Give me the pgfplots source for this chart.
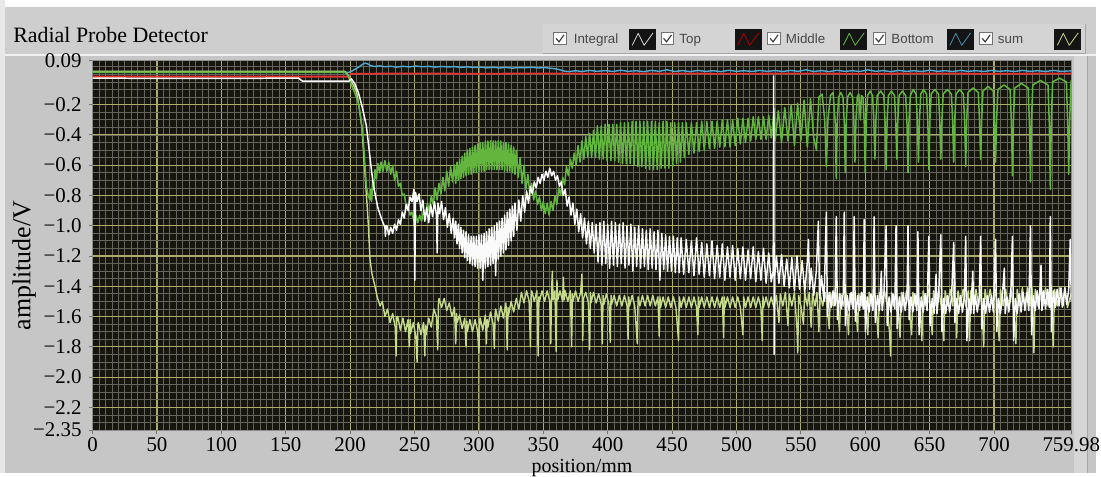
\documentclass[border=0pt]{standalone}
\usepackage{fontspec}
\setmainfont{Liberation Serif}
\newfontfamily\legfont{Liberation Sans}
\usepackage{pgfplots}
\pgfplotsset{compat=1.18}
\definecolor{bgc}{RGB}{198,198,198}
\definecolor{titlec}{RGB}{206,206,206}
\definecolor{legc}{RGB}{212,212,212}
\definecolor{rightc}{RGB}{214,214,214}
\definecolor{plotbg}{RGB}{22,22,15}
\definecolor{majg}{RGB}{172,172,108}
\definecolor{ming}{RGB}{100,100,90}
\definecolor{wht}{RGB}{250,250,250}
\definecolor{grn}{RGB}{98,182,62}
\definecolor{sumc}{RGB}{198,218,140}
\definecolor{redc}{RGB}{226,52,52}
\definecolor{bluc}{RGB}{82,170,214}
\begin{document}
\begin{tikzpicture}
\begin{scope}[x=0.5pt,y=-0.5pt]
\path[use as bounding box] (0,0) rectangle (1101,475);
\fill[bgc] (0,0) rectangle (1101,475);
\fill[titlec] (0,7) rectangle (1101,55);
\fill[white] (0,0) rectangle (1101,7);
\fill[white!60!bgc] (0,0) rectangle (5,475);
\draw[white!75!bgc,line width=0.8pt] (5,55.5)--(1101,55.5);
\fill[rightc] (1079,56) rectangle (1092,475);
\draw[black!35,line width=0.5pt] (1092,56)--(1092,475);
\fill[legc] (545,24) rectangle (1090,54);
\draw[black!35,line width=0.5pt] (545,54)--(1090,54)--(1090,24);
\node[anchor=base west,inner sep=0,font=\fontsize{11}{13}\selectfont] at (13,42.5) {Radial Probe Detector};
\end{scope}
\begin{axis}[
  at={(46.5pt,-216pt)}, anchor=south west,
  width=491.5pt, height=185.5pt, scale only axis,
  xmin=0, xmax=759.98, ymin=-2.35, ymax=0.09,
  axis background/.style={fill=plotbg},
  xtick={0,50,100,150,200,250,300,350,400,450,500,550,600,650,700,759.98},
  xticklabels={0,50,100,150,200,250,300,350,400,450,500,550,600,650,700,759.98},
  minor xtick={0,5,...,760},
  ytick={0.09,-0.2,-0.4,-0.6,-0.8,-1.0,-1.2,-1.4,-1.6,-1.8,-2.0,-2.2,-2.35},
  yticklabels={0.09,−0.2,−0.4,−0.6,−0.8,−1.0,−1.2,−1.4,−1.6,−1.8,−2.0,−2.2,−2.35},
  minor ytick={0.05,0,...,-2.3},
  grid=both,
  major grid style={draw=majg,line width=0.55pt},
  minor grid style={draw=ming,line width=0.4pt},
  tick align=outside, tick pos=left,
  major tick length=2pt, minor tick length=0pt,
  tick style={draw=black!55,line width=0.5pt},
  axis line style={draw=black!45},
  ticklabel style={font=\fontsize{10.5}{12}\selectfont},
  xticklabel style={inner sep=0.5pt,yshift=-1pt},
  xlabel={position/mm}, ylabel={amplitude/V},
  xlabel style={at={(axis description cs:0.5,-0.1135)},anchor=base,inner sep=0pt,font=\fontsize{10}{12}\selectfont},
  ylabel style={at={(axis description cs:-0.07,0.445)},anchor=center,font=\fontsize{13}{15}\selectfont},
  every axis plot/.append style={line join=round,line cap=round},
]
% Bottom (blue)
\addplot[bluc,line width=0.7pt] coordinates {(0,0.013)(199,0.013)(201,0.02)(204,0.035)(207,0.05)(209.5,0.066)(211.5,0.074)(213.5,0.07)(216,0.058)(219,0.052)(223,0.056)(227,0.05)(231,0.054)(236,0.048)(241,0.053)(246,0.049)(251,0.055)(256,0.05)(261,0.053)(266,0.048)(271,0.052)(276,0.049)(281,0.051)(286,0.046)(291,0.05)(296,0.045)(301,0.048)(306,0.043)(311,0.047)(316,0.042)(321,0.046)(326,0.041)(331,0.045)(336,0.044)(341,0.047)(346,0.042)(351,0.045)(356,0.04)(360,0.036)(363,0.03)(366,0.022)(370,0.018)(375,0.024)(380,0.019)(386,0.026)(392,0.02)(398,0.025)(404,0.019)(410,0.027)(416,0.02)(422,0.024)(428,0.018)(434,0.026)(440,0.02)(446,0.03)(452,0.019)(458,0.025)(464,0.018)(470,0.026)(476,0.02)(482,0.024)(488,0.018)(494,0.027)(500,0.02)(506,0.024)(512,0.019)(518,0.026)(524,0.02)(530,0.025)(536,0.019)(542,0.026)(548,0.02)(554,0.03)(560,0.019)(566,0.025)(572,0.018)(578,0.027)(584,0.02)(590,0.024)(596,0.019)(602,0.03)(608,0.02)(614,0.025)(620,0.018)(626,0.026)(632,0.02)(638,0.024)(644,0.019)(650,0.028)(656,0.02)(662,0.024)(668,0.019)(674,0.026)(680,0.02)(686,0.024)(692,0.019)(698,0.026)(704,0.02)(710,0.024)(716,0.019)(722,0.026)(728,0.02)(734,0.024)(740,0.019)(746,0.026)(752,0.02)(759.98,0.023)};
% Top (red)
\addplot[redc,line width=0.9pt] coordinates {(0,-0.015)(199,-0.015)(200.5,0.004)(250,0.006)(300,0.004)(350,0.006)(400,0.004)(450,0.006)(500,0.004)(550,0.006)(600,0.004)(650,0.006)(700,0.004)(759.98,0.006)};
% sum (pale yellow-green)
\addplot[sumc,line width=0.7pt] coordinates {(0,0.02)(196,0.02)(198,0.0)(200,-0.035)(202.5,-0.07)(205.1,-0.12)(207,-0.22)(209,-0.34)(210.3,-0.50)(211.6,-0.67)(213,-0.84)(214.1,-0.99)(215.4,-1.22)(217,-1.32)(219.3,-1.40)(221,-1.47)(223.2,-1.53)
(225,-1.50)(227,-1.60)(229,-1.55)(231,-1.64)(233,-1.58)(235,-1.67)(235.7,-1.86)(236.3,-1.60)(237,-1.60)(239,-1.69)(241,-1.61)(243,-1.70)(245,-1.62)(246,-1.80)(246.6,-1.62)(247,-1.71)(249,-1.64)(251,-1.73)(252,-1.90)(252.6,-1.65)(253,-1.64)(255,-1.72)(257,-1.64)(258,-1.86)(258.6,-1.66)(259,-1.72)(261,-1.61)(263,-1.67)(265,-1.55)(267,-1.60)(268,-1.82)(268.6,-1.50)(269,-1.48)(271,-1.54)(273,-1.48)(275,-1.56)(277,-1.51)(279,-1.60)(281,-1.54)(282,-1.78)(282.6,-1.58)(283,-1.64)(285,-1.59)(287,-1.68)(289,-1.61)(290,-1.80)(290.6,-1.63)(291,-1.70)(293,-1.62)(295,-1.70)(297,-1.62)(299,-1.70)(300,-1.84)(300.6,-1.62)(301,-1.61)(303,-1.69)(305,-1.59)(305.8,-1.78)(306.4,-1.62)(307,-1.67)(309,-1.57)(311,-1.65)(312,-1.81)(312.6,-1.58)(313,-1.55)(315,-1.63)(317,-1.53)(319,-1.61)(321,-1.51)(322,-1.82)(322.6,-1.54)(323,-1.59)(325,-1.50)(327,-1.57)(329,-1.48)(331,-1.55)
(333,-1.44)(335,-1.51)(337,-1.43)(339,-1.50)(340,-1.80)(340.6,-1.47)(341,-1.43)(343,-1.50)(345,-1.43)(346,-1.86)(346.6,-1.47)(347,-1.50)(349,-1.43)(351,-1.50)(353,-1.43)(355,-1.50)(355.8,-1.78)(356.4,-1.43)(357,-1.30)(357.6,-1.49)(359,-1.43)(360,-1.83)(360.6,-1.36)(361.2,-1.49)(363,-1.43)(365,-1.50)(365.6,-1.34)(366.2,-1.49)(367,-1.43)(369,-1.50)(371,-1.43)(372,-1.80)(372.6,-1.45)(373,-1.50)(375,-1.43)(377,-1.50)(379,-1.44)(380,-1.32)(380.6,-1.76)(381.2,-1.48)(383,-1.44)(385,-1.51)(386,-1.82)(386.6,-1.44)(387,-1.51)(389,-1.44)(391,-1.51)(393,-1.45)(395,-1.52)(395.8,-1.78)(396.4,-1.46)(397,-1.52)(399,-1.45)(401,-1.52)(402,-1.77)(402.6,-1.46)(403,-1.52)(405,-1.46)(407,-1.53)(409,-1.46)(411,-1.53)(413,-1.46)(415,-1.53)(415.8,-1.75)(416.4,-1.47)(417,-1.53)(419,-1.46)(421,-1.53)(423,-1.78)(423.6,-1.47)(425,-1.53)(427,-1.46)(429,-1.53)(431,-1.46)(433,-1.53)(435,-1.46)(437,-1.53)(439,-1.47)(440,-1.73)(440.6,-1.47)(441,-1.54)(443,-1.47)(445,-1.54)(447,-1.47)(449,-1.54)(451,-1.47)(453,-1.54)(455,-1.76)(455.6,-1.47)(457,-1.54)(459,-1.47)(461,-1.54)(463,-1.47)(465,-1.54)(467,-1.47)(469,-1.54)(470,-1.72)(470.6,-1.47)(471,-1.54)(473,-1.47)(475,-1.54)(477,-1.47)(479,-1.54)(481,-1.47)(483,-1.54)(485,-1.47)(487,-1.54)(489,-1.47)(490,-1.74)(490.6,-1.47)(491,-1.54)(493,-1.47)(495,-1.54)(497,-1.47)(499,-1.54)(501,-1.47)(503,-1.54)(505,-1.72)(505.6,-1.47)(507,-1.54)(509,-1.47)(511,-1.54)(513,-1.47)(515,-1.54)(517,-1.47)(519,-1.54)(520,-1.76)(520.6,-1.47)(521,-1.54)(523,-1.47)(525,-1.54)(527,-1.47)(529,-1.54)
(531,-1.46)(533,-1.64)(534,-1.45)(536,-1.53)(538,-1.44)(540,-1.66)(541,-1.45)(543,-1.53)(545,-1.44)(547,-1.68)(547.6,-1.84)(548.3,-1.46)(550,-1.53)(552,-1.65)(553,-1.44)(555,-1.53)(556.5,-1.44)(558,-1.67)(559,-1.45)(561,-1.53)(562.5,-1.44)(564,-1.70)(565,-1.45)(567,-1.53)(569,-1.44)(570.5,-1.54)(572,-1.68)(573,-1.44)(575,-1.53)(577,-1.44)(578.5,-1.52)(580,-1.70)(581,-1.45)(583,-1.53)(585,-1.44)(587,-1.72)(588,-1.45)(590,-1.53)(592,-1.44)(594,-1.70)(595,-1.45)(597,-1.53)(599,-1.44)(600.5,-1.53)(602,-1.72)(603,-1.44)(605,-1.53)(607,-1.43)(608.5,-1.53)(610,-1.74)(611,-1.44)(613,-1.53)(615,-1.43)(617,-1.53)(619,-1.72)(619.7,-1.86)(620.4,-1.44)(622,-1.53)(624,-1.43)(625.5,-1.53)(627,-1.74)(628,-1.44)(630,-1.53)(632,-1.43)(634,-1.53)(636,-1.72)(637,-1.44)(639,-1.53)(641,-1.43)(642.5,-1.53)(644,-1.76)(645,-1.43)(647,-1.53)(649,-1.42)(650.5,-1.53)(652,-1.72)(653,-1.43)(655,-1.53)(657,-1.42)(659,-1.53)(661,-1.76)(662,-1.43)(664,-1.53)(666,-1.42)(668,-1.53)(669.5,-1.30)(670.2,-1.52)(671,-1.74)(672,-1.43)(674,-1.53)(676,-1.42)(678,-1.53)(680,-1.43)(681,-1.76)(682,-1.43)(684,-1.53)(686,-1.42)(688,-1.53)(690,-1.42)(692,-1.80)(693,-1.42)(695,-1.53)(697,-1.42)(699,-1.53)(701,-1.42)(702.5,-1.53)(704,-1.76)(705,-1.42)(707,-1.53)(709,-1.42)(711,-1.53)(713,-1.42)(715,-1.53)(717,-1.78)(718,-1.42)(720,-1.53)(722,-1.41)(724,-1.53)(726,-1.41)(728,-1.53)(729.5,-1.41)(731,-1.84)(732,-1.42)(734,-1.53)(736,-1.41)(738,-1.53)(740,-1.41)(742,-1.53)(744,-1.41)(746,-1.80)(747,-1.42)(749,-1.53)(751,-1.41)(753,-1.54)(755,-1.41)(757,-1.54)(759.98,-1.45)};
% Middle (green)
\addplot[grn,line width=0.75pt] coordinates {(0,0.015)(196,0.015)(198.5,-0.01)(201,-0.07)(203.5,-0.12)(206.4,-0.19)(208.5,-0.30)(210.3,-0.45)(211.5,-0.60)(212.6,-0.74)(214,-0.80)(215.4,-0.83)
(216,-0.76)(216.7,-0.84)(217.5,-0.70)(218.5,-0.76)(219.3,-0.63)(220.5,-0.69)(221.5,-0.59)(223,-0.65)(224,-0.58)(225.5,-0.64)(227,-0.57)(228.5,-0.64)(230,-0.58)(231.5,-0.66)(233,-0.60)(234.5,-0.70)(236,-0.64)(237.5,-0.74)(239,-0.72)(240.5,-0.80)(242,-0.79)(243.5,-0.87)(245,-0.86)(246.5,-0.93)(248,-0.91)(249.5,-0.97)(251,-0.93)(252.5,-0.98)(254,-0.93)(255.5,-0.97)(257,-0.90)(258.5,-0.94)(260,-0.85)(261.5,-0.91)(263,-0.80)(264.5,-0.86)(266,-0.75)(267.5,-0.83)(269,-0.72)(270.5,-0.79)(272,-0.68)(273.5,-0.77)(275,-0.64)(276.5,-0.74)(278,-0.61)(279.5,-0.71)
(281,-0.60)(282,-0.72)(283,-0.58)(284,-0.70)(285,-0.56)(286,-0.69)(287,-0.54)(288,-0.68)(289,-0.52)(290,-0.67)(291,-0.50)(292,-0.66)(293,-0.49)(294,-0.66)(295,-0.48)(296,-0.65)(297,-0.47)(298,-0.65)(299,-0.46)(300,-0.64)(301,-0.45)(302,-0.64)(303,-0.45)(304,-0.64)(305,-0.44)(306,-0.63)(307,-0.44)(308,-0.63)(309,-0.44)(310,-0.63)(311,-0.44)(312,-0.63)(313,-0.44)(314,-0.63)(315,-0.44)(316,-0.63)(317,-0.44)(318,-0.63)(319,-0.45)(320,-0.64)(321,-0.45)(322,-0.64)(323,-0.46)(324,-0.64)(325,-0.47)(326,-0.65)(327,-0.48)(328,-0.66)(329,-0.50)(330.5,-0.68)(332,-0.55)(333.5,-0.72)(335,-0.60)(336.5,-0.76)(338,-0.66)(339.5,-0.79)(341,-0.72)(342.5,-0.83)(344,-0.77)(345.5,-0.86)(347,-0.81)(348.5,-0.90)(350,-0.84)(351.5,-0.92)(353,-0.85)(354.5,-0.93)(356,-0.84)(357.5,-0.90)(359,-0.80)(360.5,-0.86)(362,-0.75)(363.5,-0.80)(365,-0.68)(366.5,-0.73)(368,-0.61)(369.5,-0.67)(371,-0.56)(372.5,-0.62)(374,-0.52)(375.5,-0.60)(377,-0.47)(378.5,-0.58)(380,-0.44)(381.5,-0.56)(383,-0.41)(384.5,-0.55)(386,-0.39)(387.5,-0.55)(389,-0.37)(390.5,-0.55)
(392,-0.34)(393.5,-0.56)(395,-0.34)(396.5,-0.56)(398,-0.33)(399.5,-0.57)(401,-0.33)(402.5,-0.57)(404,-0.33)(405.5,-0.57)(407,-0.33)(408.5,-0.58)(410,-0.32)(411.5,-0.59)(413,-0.32)(414.5,-0.59)(416,-0.32)(417.5,-0.59)(419,-0.31)(420.5,-0.60)(422,-0.31)(423.5,-0.61)(425,-0.31)(426.5,-0.61)(428,-0.31)(429.5,-0.62)(431,-0.31)(432.5,-0.63)(434,-0.31)(435.5,-0.63)(437,-0.31)(438.5,-0.63)(440,-0.32)(441.5,-0.62)(443,-0.31)(444.5,-0.62)(446,-0.31)(447.5,-0.62)(449,-0.32)(450.5,-0.61)(452,-0.32)(453.5,-0.59)(455,-0.32)(456.5,-0.58)(458,-0.32)(459.5,-0.55)
(461,-0.32)(463,-0.53)(465,-0.32)(467,-0.52)(469,-0.32)(471,-0.51)(473,-0.31)(475,-0.50)(477,-0.31)(479,-0.49)(481,-0.31)(483,-0.49)(485,-0.31)(487,-0.48)(489,-0.30)(491,-0.48)(493,-0.30)(495,-0.48)(497,-0.30)(499,-0.47)(501,-0.29)(503,-0.46)(505,-0.29)(507,-0.45)(509,-0.29)(511,-0.44)(513,-0.28)(515,-0.43)(517,-0.28)(519,-0.43)(521,-0.28)(523,-0.43)(525,-0.27)(527,-0.42)(529,-0.26)(530,-0.44)
(532.5,-0.24)(535,-0.45)(537.5,-0.22)(540,-0.44)(542.5,-0.20)(545,-0.47)(547.5,-0.19)(550,-0.44)(552.5,-0.17)(555,-0.48)(557.5,-0.16)(560,-0.42)(562.1,-0.50)(564,-0.15)(566.5,-0.13)(568.5,-0.30)(569.8,-0.61)(571,-0.30)(573,-0.14)
(575,-0.12)(576.7,-0.32)(577.5,-0.69)(578.3,-0.30)(579.3,-0.15)(581,-0.12)(582.7,-0.15)(583.7,-0.32)(584.5,-0.65)(585.3,-0.30)(586.3,-0.15)(588.2,-0.12)(590.2,-0.15)(591.2,-0.32)(592,-0.58)(592.8,-0.30)(593.8,-0.15)(595,-0.13)(596.2,-0.30)(597,-0.14)(598.2,-0.15)(599.2,-0.32)(600,-0.65)(600.8,-0.30)(601.8,-0.14)(603.8,-0.11)(605.7,-0.14)(606.7,-0.32)(607.5,-0.56)(608.3,-0.30)(609.3,-0.14)(612,-0.11)(614.4,-0.14)(615.4,-0.32)(616.2,-0.63)(617,-0.30)(618,-0.14)(620.3,-0.11)(622.7,-0.14)(623.7,-0.32)(624.5,-0.56)(625.3,-0.30)(626.3,-0.14)(628.8,-0.11)(631.4,-0.14)(632.4,-0.32)(633.2,-0.65)(634,-0.30)(635,-0.14)(637.2,-0.10)(639.5,-0.13)(640.5,-0.32)(641.3,-0.58)(642.1,-0.30)(643.1,-0.13)(645.3,-0.10)(647.6,-0.13)(648.6,-0.32)(649.4,-0.63)(650.2,-0.30)(651.2,-0.13)(654,-0.10)(656.9,-0.13)(657.9,-0.32)(658.7,-0.56)(659.5,-0.30)(660.5,-0.13)(663.7,-0.10)(666.9,-0.13)(667.9,-0.32)(668.7,-0.58)(669.5,-0.30)(670.5,-0.13)(673.3,-0.10)(676.2,-0.13)(677.2,-0.32)(678,-0.61)(678.8,-0.30)(679.8,-0.12)(683.8,-0.09)(687.8,-0.12)(688.8,-0.32)(689.6,-0.56)(690.4,-0.30)(691.4,-0.11)(695.4,-0.08)(699.4,-0.11)(700.4,-0.32)(701.2,-0.58)(702,-0.30)(703,-0.10)(707.8,-0.07)(712.5,-0.10)(713.5,-0.32)(714.3,-0.67)(715.1,-0.30)(716.1,-0.09)(721.3,-0.06)(726.5,-0.09)(727.5,-0.32)(728.3,-0.71)(729.1,-0.30)(730.1,-0.07)(736,-0.04)(741.9,-0.07)(742.9,-0.32)(743.7,-0.76)(744.5,-0.30)(745.5,-0.05)(750.8,-0.025)(756.2,-0.05)(757.2,-0.32)(758,-0.66)(758.8,-0.30)(759.6,-0.08)(759.98,-0.04)};
% Integral (white)
\addplot[wht,line width=0.75pt] coordinates {(0,-0.025)(80,-0.027)(160,-0.025)(163,-0.045)(199,-0.045)(201,-0.03)(203.5,-0.06)(206.4,-0.12)(209.5,-0.22)(212.6,-0.34)(214.5,-0.48)(216.5,-0.63)(218,-0.73)(219.6,-0.80)(221.5,-0.88)(223.4,-0.93)(225.5,-0.98)(227,-1.01)(227.4,-1.07)(227.8,-1.00)(228.5,-1.00)(230,-1.06)(231.5,-1.01)(233,-1.05)(234.5,-0.99)(236,-1.03)(237.5,-0.96)(239,-0.99)(240.5,-0.91)(242,-0.95)(243.5,-0.86)(245,-0.90)(246.5,-0.81)(248,-0.84)(249.5,-0.76)(250.2,-1.36)(250.8,-0.78)(252,-0.84)(253.5,-0.79)(255,-0.90)(256.5,-0.83)(258,-0.97)(259.5,-0.88)(261,-0.98)(262.5,-0.86)(264,-0.94)(265.5,-0.84)(267,-0.93)(267.6,-1.18)(268.2,-0.85)(269.5,-0.92)(271,-0.84)(272.5,-0.96)(274,-0.88)(275.5,-1.01)(277,-0.92)(278.5,-1.05)(280,-0.95)
(281,-1.08)(282,-0.97)(283,-1.12)(284,-0.99)(285,-1.15)(286,-1.01)(287,-1.18)(288,-1.03)(289,-1.21)(290,-1.04)(291,-1.23)(292,-1.06)(293,-1.25)(294,-1.07)(295,-1.26)(296,-1.07)(297,-1.27)(298,-1.07)(299,-1.28)(300,-1.06)(301,-1.28)(302,-1.06)(303,-1.36)(304,-1.05)(305,-1.28)(306,-1.04)(307,-1.27)(308,-1.02)(309,-1.26)(310,-1.01)(311,-1.25)(312,-1.00)(313,-1.33)(314,-0.98)(315,-1.22)(316,-0.97)(317,-1.20)(318,-0.95)(319,-1.18)(320,-0.93)(321,-1.16)(322,-0.91)(323,-1.13)(324,-0.89)(325,-1.10)(326,-0.87)(327,-1.07)(328,-0.85)(329.5,-1.03)(331,-0.83)(332.5,-0.97)(334,-0.80)(335.5,-0.91)(337,-0.77)(338.5,-0.85)(340,-0.74)(341.5,-0.79)(343,-0.71)(344.5,-0.75)(346,-0.68)(347.5,-0.72)(349,-0.66)(350.5,-0.70)(352,-0.64)(353.5,-0.68)(355,-0.62)(356.5,-0.67)(358,-0.64)(359.5,-0.70)(361,-0.67)(362.5,-0.74)(364,-0.71)(365.5,-0.80)(367,-0.76)(368.5,-0.87)(370,-0.81)(371.5,-0.93)(373,-0.85)(374.5,-0.99)(376,-0.89)(377.5,-1.04)(379,-0.92)(380.5,-1.08)(382,-0.95)(383.5,-1.12)(385,-0.97)(386.5,-1.15)(388,-0.98)(389.5,-1.18)(391,-0.99)
(392.5,-1.24)(394,-0.98)(395.5,-1.26)(397,-0.97)(398.5,-1.25)(400,-0.99)(401.5,-1.28)(403,-0.97)(404.5,-1.26)(406,-0.98)(407.5,-1.27)(409,-0.99)(410.5,-1.25)(412,-0.98)(413.5,-1.28)(415,-1.00)(416.5,-1.26)(418,-0.99)(419.5,-1.30)(421,-1.01)(422.5,-1.27)(424,-1.00)(425.5,-1.28)(427,-1.02)(428.5,-1.27)(430,-1.03)(431.5,-1.29)(433,-1.02)(434.5,-1.28)(436,-1.04)(437.5,-1.29)(439,-1.03)(440.5,-1.36)(442,-1.05)(443.5,-1.29)(445,-1.06)(446.5,-1.30)(448,-1.07)(449.5,-1.30)(451,-1.07)(452.5,-1.31)(454,-1.08)(455.5,-1.31)
(457,-1.08)(459,-1.32)(461,-1.09)(463,-1.31)(465,-1.10)(467,-1.33)(469,-1.08)(471,-1.32)(473,-1.11)(475,-1.34)(477,-1.12)(479,-1.33)(481,-1.10)(483,-1.35)(485,-1.13)(487,-1.34)(489,-1.12)(491,-1.36)(493,-1.14)(495,-1.34)(497,-1.13)(499,-1.36)(501,-1.15)(503,-1.35)(505,-1.14)(507,-1.36)(509,-1.16)(511,-1.35)(513,-1.14)(515,-1.37)(517,-1.17)(519,-1.36)(521,-1.15)(523,-1.38)(525,-1.18)(527,-1.37)(528.5,-1.30)(528.9,-0.01)(529.3,-1.85)(529.7,-1.33)
(531,-1.20)(533,-1.38)(535,-1.19)(537,-1.40)(539,-1.22)(541,-1.41)(543,-1.21)(545,-1.43)(547,-1.20)(549,-1.42)(551,-1.23)(553,-1.44)(555,-1.24)(555.9,-1.09)(556.8,-1.42)(558,-1.28)(560,-1.46)(562,-1.30)(563.6,-0.97)(564.5,-1.48)(566,-1.33)(568,-1.50)(569.8,-0.91)(570.6,-1.60)
(572,-1.44)(573.5,-1.54)(575,-1.43)(576.5,-1.53)(577.5,-0.94)(578.4,-1.62)(580,-1.45)(581.5,-1.55)(583,-1.44)(583.7,-0.91)(584.6,-1.66)(586,-1.46)(587.5,-1.56)(589,-1.44)(590.5,-1.55)(591.4,-0.94)(592.3,-1.63)(594,-1.46)(595.5,-1.56)(597,-1.44)(598.5,-1.55)(599.2,-0.96)(600.1,-1.70)(601.5,-1.47)(603,-1.57)(604.5,-1.45)(606,-1.56)(606.9,-0.94)(607.8,-1.64)(609.5,-1.46)(611,-1.56)(612.5,-1.30)(613.2,-1.56)(614.5,-1.45)(616.2,-1.00)(617.1,-1.66)(618.5,-1.47)(620,-1.57)(621.5,-1.45)(623,-1.55)(623.9,-1.00)(624.8,-1.68)(626.5,-1.47)(628,-1.57)(629.5,-1.44)(631,-1.56)(632.5,-1.46)(633.2,-1.00)(634.1,-1.62)(635.5,-1.47)(637,-1.57)(638.5,-1.45)(640,-1.56)(640.9,-1.04)(641.8,-1.72)(643.5,-1.47)(645,-1.57)(646.5,-1.45)(648,-1.56)(649.4,-1.07)(650.3,-1.66)(652,-1.48)(653.5,-1.58)(655,-1.32)(655.7,-1.58)(657,-1.46)(658.7,-1.06)(659.6,-1.70)(661,-1.48)(662.5,-1.58)(664,-1.46)(665.5,-1.57)(667,-1.47)(668.7,-1.11)(669.6,-1.64)(671,-1.48)(672.5,-1.58)(674,-1.46)(675.5,-1.57)(677,-1.46)(678,-1.07)(678.9,-1.76)(680.5,-1.48)(682,-1.58)(683.5,-1.30)(684.2,-1.58)(685.5,-1.46)(687,-1.57)(688.5,-1.47)(689.6,-1.07)(690.5,-1.68)(692,-1.48)(693.5,-1.58)(695,-1.46)(696.5,-1.57)(698,-1.46)(699.5,-1.57)(701.2,-1.09)(702.1,-1.70)(703.5,-1.48)(705,-1.58)(706.5,-1.46)(708,-1.28)(708.7,-1.58)(710,-1.47)(711.5,-1.57)(713,-1.46)(714.3,-1.07)(715.2,-1.76)(716.5,-1.48)(718,-1.58)(719.5,-1.45)(721,-1.57)(722.5,-1.44)(724,-1.56)(725.5,-1.44)(727,-1.56)(728.3,-1.00)(729.2,-1.72)(730.5,-1.46)(732,-1.56)(733.5,-1.43)(735,-1.55)(736.5,-1.26)(737.2,-1.56)(738.5,-1.43)(740,-1.55)(741.5,-1.42)(743,-1.54)(743.7,-0.94)(744.6,-1.70)(746,-1.43)(747.5,-1.54)(749,-1.42)(750.5,-1.53)(752,-1.41)(753.5,-1.53)(755,-1.41)(756.5,-1.52)(758,-1.42)(759.2,-1.09)(759.98,-1.50)};
\end{axis}
\begin{scope}[x=0.5pt,y=-0.5pt]
\tikzset{lt/.style={anchor=base west,inner sep=0,font=\legfont\fontsize{6.7}{8}\selectfont,text=black!72}}
\foreach \cb/\tx/\ic/\lab/\col in {556/576/632/Integral/white!85!black, 664/682/738/Top/red!70!black, 771/789/844/Middle/grn, 877/895/951/Bottom/bluc!85!black, 984/1002/1059/sum/sumc}{
  \fill[white] (\cb,32.5) rectangle ++(12.5,12.5);
  \draw[black!55,line width=0.4pt] (\cb,32.5) rectangle ++(12.5,12.5);
  \draw[black!75,line width=0.6pt] (\cb+2.5,38.5) -- (\cb+5.5,42) -- (\cb+10.5,35);
  \node[lt] at (\tx,44) {\lab};
  \fill[black!92] (\ic,29) rectangle ++(27,21);
  \draw[\col,line width=0.4pt,line join=round] (\ic+3,45.5) -- (\ic+9,33.5) -- (\ic+15,45.5) -- (\ic+24,33);
}
\end{scope}
\end{tikzpicture}
\end{document}
